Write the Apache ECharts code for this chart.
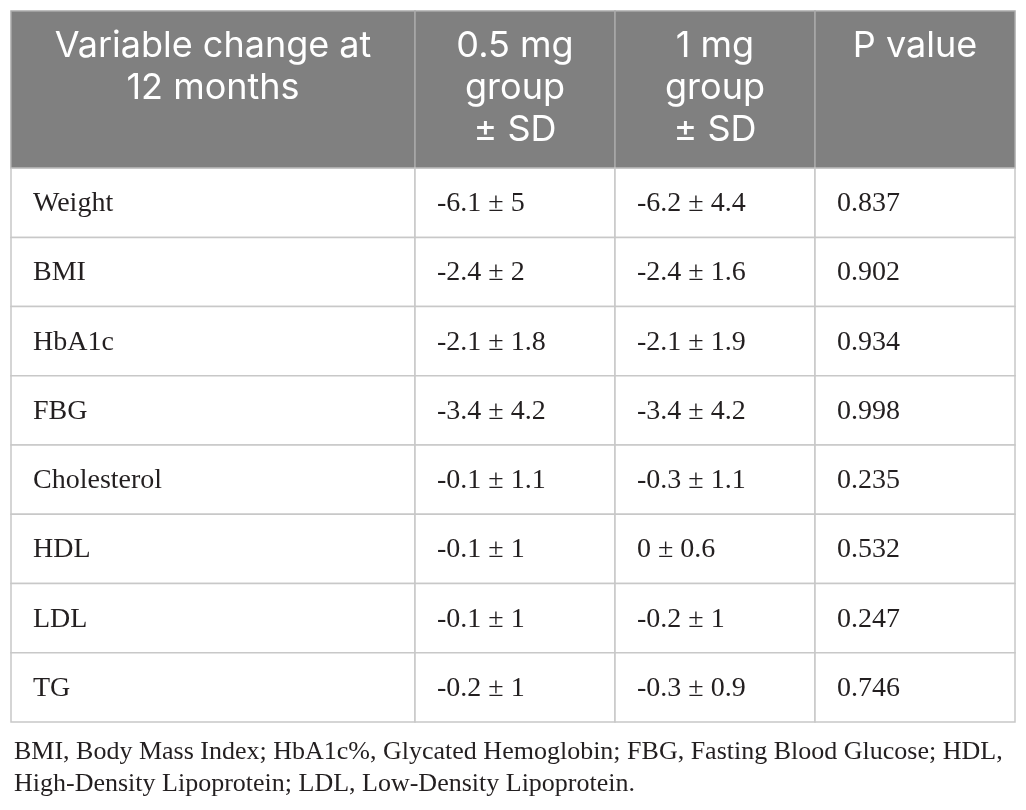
<!DOCTYPE html>
<html>
<head>
<meta charset="utf-8">
<script src="https://cdn.jsdelivr.net/npm/echarts@6/dist/echarts.min.js"></script>
<style>
  html, body { margin: 0; padding: 0; background: #ffffff; }
  #chart { width: 1026px; height: 810px; }
</style>
</head>
<body>
<div id="chart"></div>
<script>
// ---- data ----
const headers = ['Variable change at\n12 months', '0.5 mg\ngroup\n± SD', '1 mg\ngroup\n± SD', 'P value'];
const variables = ['Weight', 'BMI', 'HbA1c', 'FBG', 'Cholesterol', 'HDL', 'LDL', 'TG'];
const mean05 = [-6.1, -2.4, -2.1, -3.4, -0.1, -0.1, -0.1, -0.2];
const sd05   = [5, 2, 1.8, 4.2, 1.1, 1, 1, 1];
const mean1  = [-6.2, -2.4, -2.1, -3.4, -0.3, 0, -0.2, -0.3];
const sd1    = [4.4, 1.6, 1.9, 4.2, 1.1, 0.6, 1, 0.9];
const pValues = [0.837, 0.902, 0.934, 0.998, 0.235, 0.532, 0.247, 0.746];
const footnote = 'BMI, Body Mass Index; HbA1c%, Glycated Hemoglobin; FBG, Fasting Blood Glucose; HDL,\nHigh-Density Lipoprotein; LDL, Low-Density Lipoprotein.';

// ---- layout ----
const colWeights = [404, 200, 200, 200];
const colEdges = [0];
colWeights.forEach(w => colEdges.push(colEdges[colEdges.length - 1] + w));
const HEADER_UNITS = 2.27;
const totalUnits = HEADER_UNITS + variables.length;

function cellText(col, row) {
  if (row < 0) return headers[col];
  if (col === 0) return variables[row];
  if (col === 1) return mean05[row] + ' ± ' + sd05[row];
  if (col === 2) return mean1[row] + ' ± ' + sd1[row];
  return pValues[row].toFixed(3);
}

const cells = [];
for (let c = 0; c < headers.length; c++) cells.push([c, -1]);
for (let r = 0; r < variables.length; r++)
  for (let c = 0; c < headers.length; c++) cells.push([c, r]);

const chart = echarts.init(document.getElementById('chart'), null, { renderer: 'canvas' });
chart.setOption({
  backgroundColor: '#ffffff',
  animation: false,
  title: {
    text: footnote,
    left: 9,
    top: 731,
    textStyle: {
      fontFamily: 'Liberation Serif',
      fontSize: 26,
      fontWeight: 'normal',
      color: '#231f20',
      lineHeight: 32
    }
  },
  grid: { left: 11, right: 11, top: 11, bottom: 88 },
  xAxis: { type: 'value', min: 0, max: colEdges[colEdges.length - 1], show: false },
  yAxis: { type: 'value', min: 0, max: totalUnits, inverse: true, show: false },
  series: [{
    type: 'custom',
    clip: false,
    data: cells,
    renderItem: function (params, api) {
      const col = api.value(0), row = api.value(1);
      const isHeader = row < 0;
      const y0 = isHeader ? 0 : HEADER_UNITS + row;
      const y1 = isHeader ? HEADER_UNITS : y0 + 1;
      const p0 = api.coord([colEdges[col], y0]);
      const p1 = api.coord([colEdges[col + 1], y1]);
      const rect = {
        type: 'rect',
        shape: { x: p0[0], y: p0[1], width: p1[0] - p0[0], height: p1[1] - p0[1] },
        style: isHeader
          ? { fill: '#808080', stroke: '#a9a9a9', lineWidth: 1.5 }
          : { fill: '#ffffff', stroke: '#c8c8c8', lineWidth: 1.5 }
      };
      const text = isHeader
        ? {
            type: 'text',
            style: {
              text: cellText(col, row),
              x: (p0[0] + p1[0]) / 2,
              y: p0[1] + 14,
              align: 'center',
              verticalAlign: 'top',
              fontFamily: 'Inter',
              fontSize: 36,
              lineHeight: 42,
              fill: '#ffffff'
            }
          }
        : {
            type: 'text',
            style: {
              text: cellText(col, row),
              x: p0[0] + 22,
              y: (p0[1] + p1[1]) / 2 + 1,
              align: 'left',
              verticalAlign: 'middle',
              fontFamily: 'Liberation Serif',
              fontSize: 28,
              fill: '#231f20'
            }
          };
      return { type: 'group', children: [rect, text] };
    }
  }]
});
</script>
</body>
</html>
